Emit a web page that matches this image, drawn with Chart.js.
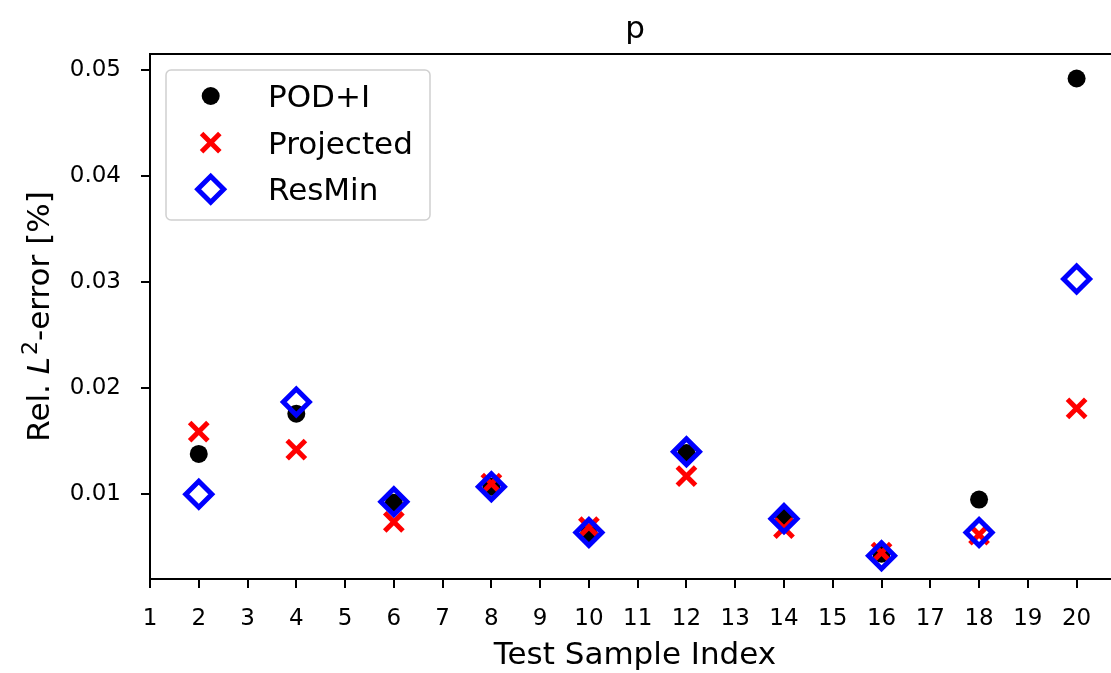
<!DOCTYPE html>
<html>
<head>
<meta charset="utf-8">
<title>p — Rel. L2-error per test sample</title>
<script src="https://cdn.jsdelivr.net/npm/chart.js@4"></script>
<style>
  html, body { margin: 0; padding: 0; background: #fff; overflow: hidden; }
  #wrap { width: 1200px; height: 673px; }
  canvas { display: block; }
</style>
</head>
<body>
<div id="wrap"><canvas id="chart" width="1120" height="673"></canvas></div>
<script>
// Test sample indices (x positions of the markers)
const sampleIndex = [2, 4, 6, 8, 10, 12, 14, 16, 18, 20];

// Relative L2 error of the pressure field p, per method
const podI      = [0.0138, 0.0176, 0.0092, 0.0107, 0.0062, 0.0139, 0.0079, 0.0044, 0.0095, 0.0492];
const projected = [0.0159, 0.0142, 0.0074, 0.0110, 0.0069, 0.0117, 0.0068, 0.0045, 0.0062, 0.0181];
const resMin    = [0.0100, 0.0187, 0.0093, 0.0107, 0.0064, 0.0140, 0.0077, 0.0042, 0.0064, 0.0303];

// Axis ticks and ranges
const xTicks = [1, 2, 3, 4, 5, 6, 7, 8, 9, 10, 11, 12, 13, 14, 15, 16, 17, 18, 19, 20];
const yTicks = [0.01, 0.02, 0.03, 0.04, 0.05];
const xRange = [1, 20.89];
const yRange = [0.00201, 0.05151];

// Text
const chartTitle = 'p';
const xTitle = 'Test Sample Index';
const seriesLabels = ['POD+I', 'Projected', 'ResMin'];

// Plot frame: the axes box runs slightly past the visible page on the right
const PLOT_RIGHT = 1120;

const FONT = '"DejaVu Sans", "Liberation Sans", sans-serif';
const LABEL_SIZE = 31;
Chart.defaults.font.family = FONT;
Chart.defaults.color = '#000';

function toPoints(values) {
  return values.map((v, i) => ({ x: sampleIndex[i], y: v }));
}

// Draws a marker with the same geometry Chart.js uses for a dataset's points
function drawMarker(ctx, ds, x, y) {
  ctx.save();
  ctx.fillStyle = ds.pointBackgroundColor;
  ctx.strokeStyle = ds.pointBorderColor;
  ctx.lineWidth = ds.pointBorderWidth;
  const opts = { pointStyle: ds.pointStyle, radius: ds.pointRadius, borderWidth: ds.pointBorderWidth, rotation: 0 };
  if (Chart.helpers && Chart.helpers.drawPoint) {
    Chart.helpers.drawPoint(ctx, opts, x, y);
  }
  ctx.restore();
}

const decorations = {
  id: 'decorations',
  afterDraw(chart) {
    const { ctx, chartArea: a } = chart;
    const cx = (a.left + a.right) / 2;
    const f = LABEL_SIZE + 'px ' + FONT;
    ctx.save();

    // top and right spines
    ctx.strokeStyle = '#000';
    ctx.lineWidth = 2;
    ctx.beginPath();
    ctx.moveTo(a.left - 1, a.top);
    ctx.lineTo(a.right, a.top);
    ctx.lineTo(a.right, a.bottom);
    ctx.stroke();

    // title and x-axis title
    ctx.fillStyle = '#000';
    ctx.textAlign = 'center';
    ctx.textBaseline = 'alphabetic';
    ctx.font = f;
    ctx.fillText(chartTitle, cx, 38);
    ctx.fillText(xTitle, cx, 664);

    // y-axis title: "Rel. L²-error [%]" with italic L and superscript 2
    const parts = [
      { t: 'Rel. ', f: f, dy: 0 },
      { t: 'L', f: 'italic ' + f, dy: 0, after: 2 },
      { t: '2', f: Math.round(LABEL_SIZE * 0.7) + 'px ' + FONT, dy: -12 },
      { t: '-error [%]', f: f, dy: 0 }
    ];
    let total = 0;
    parts.forEach(p => { ctx.font = p.f; p.w = ctx.measureText(p.t).width + (p.after || 0); total += p.w; });
    ctx.save();
    ctx.translate(48.5, (a.top + a.bottom) / 2);
    ctx.rotate(-Math.PI / 2);
    ctx.textAlign = 'left';
    let px = -total / 2;
    parts.forEach(p => { ctx.font = p.f; ctx.fillText(p.t, px, p.dy); px += p.w; });
    ctx.restore();

    // legend box
    const bx = 166, by = 70, bw = 264, bh = 150, r = 5;
    ctx.beginPath();
    ctx.moveTo(bx + r, by);
    ctx.arcTo(bx + bw, by, bx + bw, by + bh, r);
    ctx.arcTo(bx + bw, by + bh, bx, by + bh, r);
    ctx.arcTo(bx, by + bh, bx, by, r);
    ctx.arcTo(bx, by, bx + bw, by, r);
    ctx.closePath();
    ctx.fillStyle = 'rgba(255,255,255,0.8)';
    ctx.fill();
    ctx.strokeStyle = '#d0d0d0';
    ctx.lineWidth = 1.5;
    ctx.stroke();

    const rows = [96, 142.7, 189.3];
    chart.data.datasets.forEach((ds, i) => {
      drawMarker(ctx, ds, 210.7, rows[i]);
      ctx.fillStyle = '#000';
      ctx.font = f;
      ctx.textAlign = 'left';
      ctx.textBaseline = 'alphabetic';
      ctx.fillText(ds.label, 268, rows[i] + 11);
    });

    ctx.restore();
  }
};

const tickGrid = {
  display: true,
  drawOnChartArea: false,
  drawTicks: true,
  tickLength: 9,
  tickWidth: 2,
  tickColor: '#000',
  color: '#000',
  lineWidth: 2
};

const chart = new Chart(document.getElementById('chart'), {
  type: 'scatter',
  data: {
    datasets: [
      {
        label: seriesLabels[0],
        data: toPoints(podI),
        pointStyle: 'circle',
        pointRadius: 9,
        pointBackgroundColor: '#000000',
        pointBorderColor: '#000000',
        pointBorderWidth: 0,
        order: 3
      },
      {
        label: seriesLabels[1],
        data: toPoints(projected),
        pointStyle: 'crossRot',
        pointRadius: 12.9,
        pointBackgroundColor: '#ff0000',
        pointBorderColor: '#ff0000',
        pointBorderWidth: 5,
        order: 2
      },
      {
        label: seriesLabels[2],
        data: toPoints(resMin),
        pointStyle: 'rectRot',
        pointRadius: 13,
        pointBackgroundColor: 'rgba(0,0,0,0)',
        pointBorderColor: '#0000ff',
        pointBorderWidth: 5,
        order: 1
      }
    ]
  },
  options: {
    responsive: false,
    maintainAspectRatio: false,
    devicePixelRatio: 1,
    animation: false,
    events: [],
    layout: { padding: { top: 54, left: 0, right: 0, bottom: 0 } },
    plugins: {
      legend: { display: false },
      title: { display: false },
      tooltip: { enabled: false }
    },
    scales: {
      x: {
        type: 'linear',
        min: xRange[0],
        max: xRange[1],
        afterBuildTicks: s => { s.ticks = xTicks.map(v => ({ value: v })); },
        afterFit: s => { s.height = 94; s.paddingLeft = 0; s.paddingRight = 0; },
        ticks: {
          autoSkip: false,
          maxRotation: 0,
          padding: 17,
          color: '#000',
          font: { size: 23 },
          callback: v => String(v)
        },
        grid: tickGrid,
        border: { display: true, color: '#000', width: 2 }
      },
      y: {
        type: 'linear',
        min: yRange[0],
        max: yRange[1],
        afterBuildTicks: s => { s.ticks = yTicks.map(v => ({ value: v })); },
        afterFit: s => { s.width = 150; s.paddingTop = 0; s.paddingBottom = 0; },
        ticks: {
          padding: 20,
          color: '#000',
          font: { size: 23 },
          callback: v => Number(v).toFixed(2)
        },
        grid: tickGrid,
        border: { display: true, color: '#000', width: 2 }
      }
    }
  },
  plugins: [decorations]
});

// Chart.js reserves a little room on the right for edge labels; widen the
// canvas until the plot box ends where intended.
for (let i = 0; i < 4; i++) {
  const gap = PLOT_RIGHT - chart.chartArea.right;
  if (Math.abs(gap) < 0.5) break;
  chart.resize(Math.round(chart.width + gap), 673);
}
</script>
</body>
</html>
